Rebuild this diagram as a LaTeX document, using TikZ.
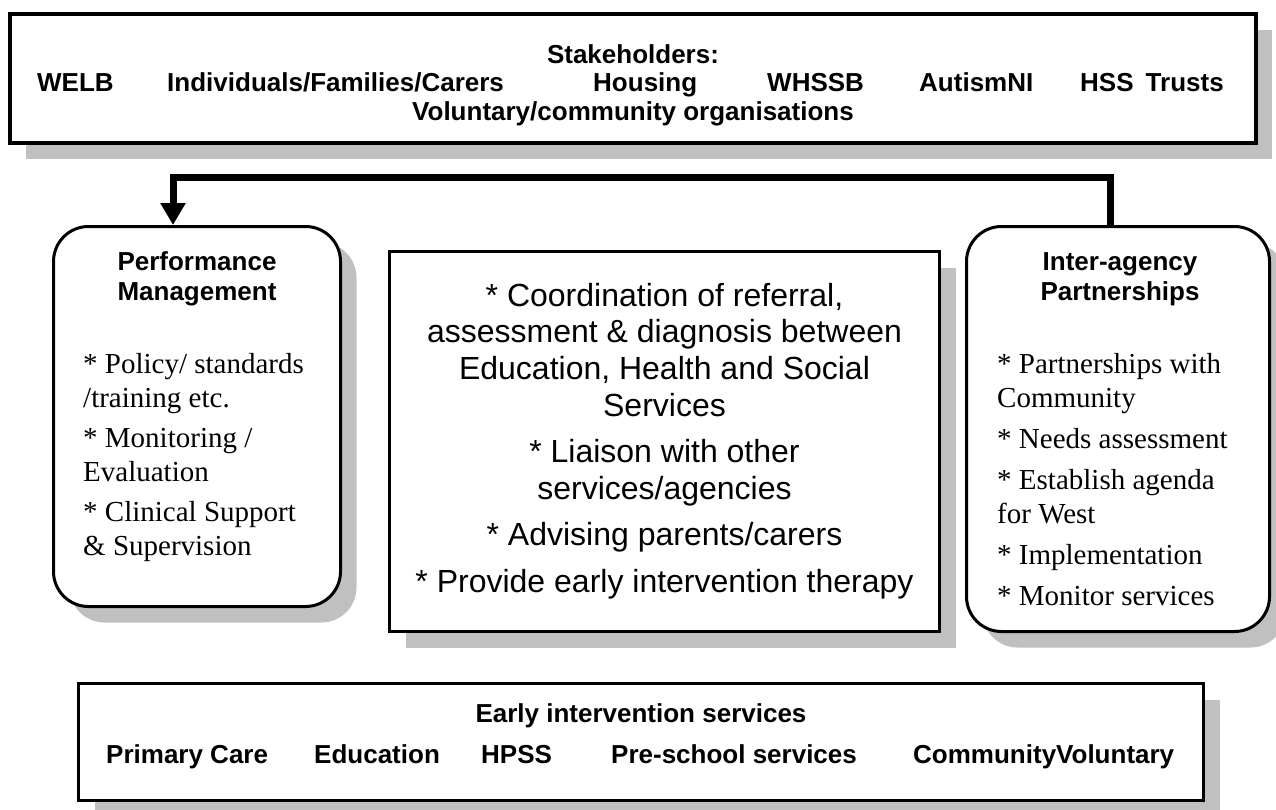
\documentclass[tikz,border=0pt]{standalone}
\usepackage{fontspec}
\setmainfont{Liberation Serif}
\setsansfont{Liberation Sans}
\usetikzlibrary{arrows.meta,shadows}

\definecolor{shadowgray}{RGB}{192,192,192}

\tikzset{
	box/.style={draw,line width=3.5pt,fill=white,inner sep=0pt,
		general shadow={fill=shadowgray,shadow xshift=16pt,shadow yshift=-16pt}},
	roundbox/.style={box,line width=3pt,rounded corners=35pt},
	head/.style={font=\sffamily\bfseries\fontsize{26}{29.5}\selectfont,inner sep=0pt},
	body/.style={font=\rmfamily\fontsize{29}{34}\selectfont,inner sep=0pt,align=left,anchor=base west},
	link/.style={line width=7pt,-{Triangle[length=22pt,width=24pt]}}
}

\begin{document}
\begin{tikzpicture}[x=1pt,y=-1pt]
				\useasboundingbox (0,0) rectangle (1276,809);

				% frames
				\node[box,line width=4pt,minimum width=1246pt,minimum height=129pt] (stake) at (633,78.5) {};
				\node[roundbox,minimum width=287pt,minimum height=380pt] (perf) at (197,416.5) {};
				\node[box,minimum width=550pt,minimum height=380pt] (core) at (664.5,441.5) {};
				\node[roundbox,minimum width=303pt,minimum height=405pt] (inter) at (1118,429) {};
				\node[box,minimum width=1125pt,minimum height=117pt] (early) at (641,742) {};

				% feedback loop
				\draw[link] ([xshift=-8pt]inter.north) -- ++(0,-48) -| ([xshift=-24pt]perf.north);

				% stakeholders
				\node[head,anchor=base] (stakehead) at (633,63) {Stakeholders:};
				\node[head,anchor=base west] (welb) at (37,91) {WELB};
				\node[head,anchor=base west] (families) at (167,91) {Individuals/Families/Carers};
				\node[head,anchor=base west] (housing) at (593,91) {Housing};
				\node[head,anchor=base west] (whssb) at (767,91) {WHSSB};
				\node[head,anchor=base west] (autism) at (919,91) {AutismNI};
				\node[head,anchor=base west] (trusts) at (1080,91) {HSS\hspace{12pt}Trusts};
				\node[head,anchor=base] (voluntary) at (633,120) {Voluntary/community organisations};

				% performance management (base = last line)
				\node[head,anchor=base,align=center] (perfhead) at (197,300)
					{Performance\\Management};
				\node[body] (perftext) at (83,555)
					{* Policy/ standards\\/training etc.\\[6pt]* Monitoring /\\Evaluation\\[6pt]* Clinical Support\\\& Supervision};

				% core tasks
				\node[anchor=base,align=center,inner sep=0pt,
					font=\sffamily\fontsize{32}{36.7}\selectfont] (coretext) at (664.5,592)
					{* Coordination of referral,\\assessment \& diagnosis between\\Education, Health and Social\\Services\\[10pt]* Liaison with other\\services/agencies\\[9pt]* Advising parents/carers\\[10pt]* Provide early intervention therapy};

				% inter-agency partnerships
				\node[head,anchor=base,align=center] (interhead) at (1120,300)
					{Inter-agency\\Partnerships};
				\node[body] (intertext) at (997,605)
					{* Partnerships with\\Community\\[7pt]* Needs assessment\\[7pt]* Establish agenda\\for West\\[7pt]* Implementation\\[7pt]* Monitor services};

				% early intervention services
				\node[head,anchor=base] (earlyhead) at (641,722) {Early intervention services};
				\node[head,anchor=base west] (primary) at (106,763) {Primary Care};
				\node[head,anchor=base west] (education) at (314,763) {Education};
				\node[head,anchor=base west] (hpss) at (481,763) {HPSS};
				\node[head,anchor=base west] (preschool) at (611,763) {Pre-school services};
				\node[head,anchor=base west] (community) at (913,763) {CommunityVoluntary};

			\end{tikzpicture}
\end{document}
